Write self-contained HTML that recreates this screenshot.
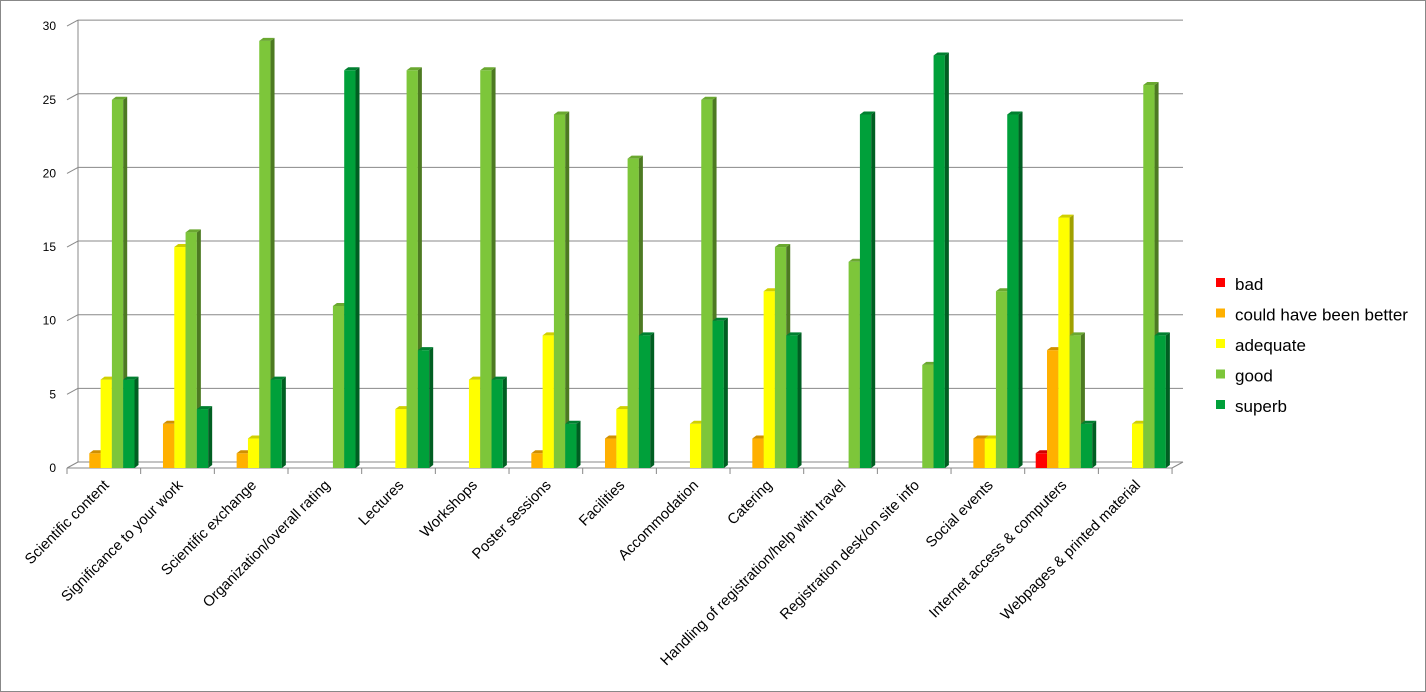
<!DOCTYPE html>
<html><head><meta charset="utf-8"><style>
body{margin:0;background:#fff}
svg{display:block;font-family:"Liberation Sans",Arial,sans-serif}
</style></head><body>
<svg id="c" width="1426" height="692" xmlns="http://www.w3.org/2000/svg">
<rect x="0.5" y="0.5" width="1425" height="691" fill="#fff" stroke="#888"/>
</svg>
<script>
(function(){
const s=document.getElementById('c');let h='';
const y0=468,k=14.73,x0=67,cw=73.67,dx=11,dy=6;
for(let v=0;v<=30;v+=5){const y=y0-v*k;
 h+=`<line x1="${x0+dx}" y1="${y-dy}" x2="1183" y2="${y-dy}" stroke="#888"/>`;
 h+=`<line x1="${x0}" y1="${y}" x2="${x0+dx}" y2="${y-dy}" stroke="#888"/>`;
 h+=`<text x="56" y="${y+4}" font-size="12" text-anchor="end">${v}</text>`;}
h+=`<line x1="${x0+dx}" y1="${y0-30*k-dy}" x2="${x0+dx}" y2="${y0-dy}" stroke="#888"/>`;
h+=`<line x1="${x0}" y1="${y0}" x2="1172" y2="${y0}" stroke="#888"/><line x1="1172" y1="${y0}" x2="1183" y2="${y0-dy}" stroke="#888"/>`;
const cats=["Scientific content","Significance to your work","Scientific exchange","Organization/overall rating","Lectures","Workshops","Poster sessions","Facilities","Accommodation","Catering","Handling of registration/help with travel","Registration desk/on site info","Social events","Internet access & computers","Webpages & printed material"];
const d=[[0,1,6,25,6],[0,3,15,16,4],[0,1,2,29,6],[0,0,0,11,27],[0,0,4,27,8],[0,0,6,27,6],[0,1,9,24,3],[0,2,4,21,9],[0,0,3,25,10],[0,2,12,15,9],[0,0,0,14,24],[0,0,0,7,28],[0,2,2,12,24],[1,8,17,9,3],[0,0,3,26,9]];
const col=["#ff0000","#ffb000","#ffff00","#7dc63a","#00a03a"];
const sideC=["#a00000","#b07800","#a0a000","#4d7a22","#005f22"];
const topC=["#d00000","#d09000","#d0d000","#6aa830","#008030"];
const bw=11.3,sd=4,td=3;
for(let i=0;i<=15;i++){const x=x0+i*cw;h+=`<line x1="${x}" y1="${y0}" x2="${x}" y2="${y0+6}" stroke="#888"/>`;}
cats.forEach((c,i)=>{const gx=x0+i*cw+11;
 d[i].forEach((v,j)=>{if(!v)return;const x=gx+j*bw,y=y0-v*k,b=y0;
  h+=`<rect x="${x}" y="${y}" width="${bw}" height="${b-y}" fill="${col[j]}"/>`;
  h+=`<polygon points="${x+bw},${y} ${x+bw+sd},${y-td} ${x+bw+sd},${b-td} ${x+bw},${b}" fill="${sideC[j]}"/>`;
  h+=`<polygon points="${x},${y} ${x+sd},${y-td} ${x+bw+sd},${y-td} ${x+bw},${y}" fill="${topC[j]}"/>`;});
 const cx=x0+i*cw+cw/2+6;
 h+=`<text x="${cx}" y="486" font-size="14.8" text-anchor="end" transform="rotate(-45 ${cx} 486)">${c.replace('&','&amp;')}</text>`;});
const ln=["bad","could have been better","adequate","good","superb"];
ln.forEach((t,i)=>{const y=284+i*30.5;h+=`<rect x="1216" y="${y-6}" width="9" height="9" fill="${col[i]}"/><text x="1235" y="${y+6}" font-size="17">${t}</text>`;});
s.insertAdjacentHTML('beforeend',h);
})();
</script>
</body></html>
